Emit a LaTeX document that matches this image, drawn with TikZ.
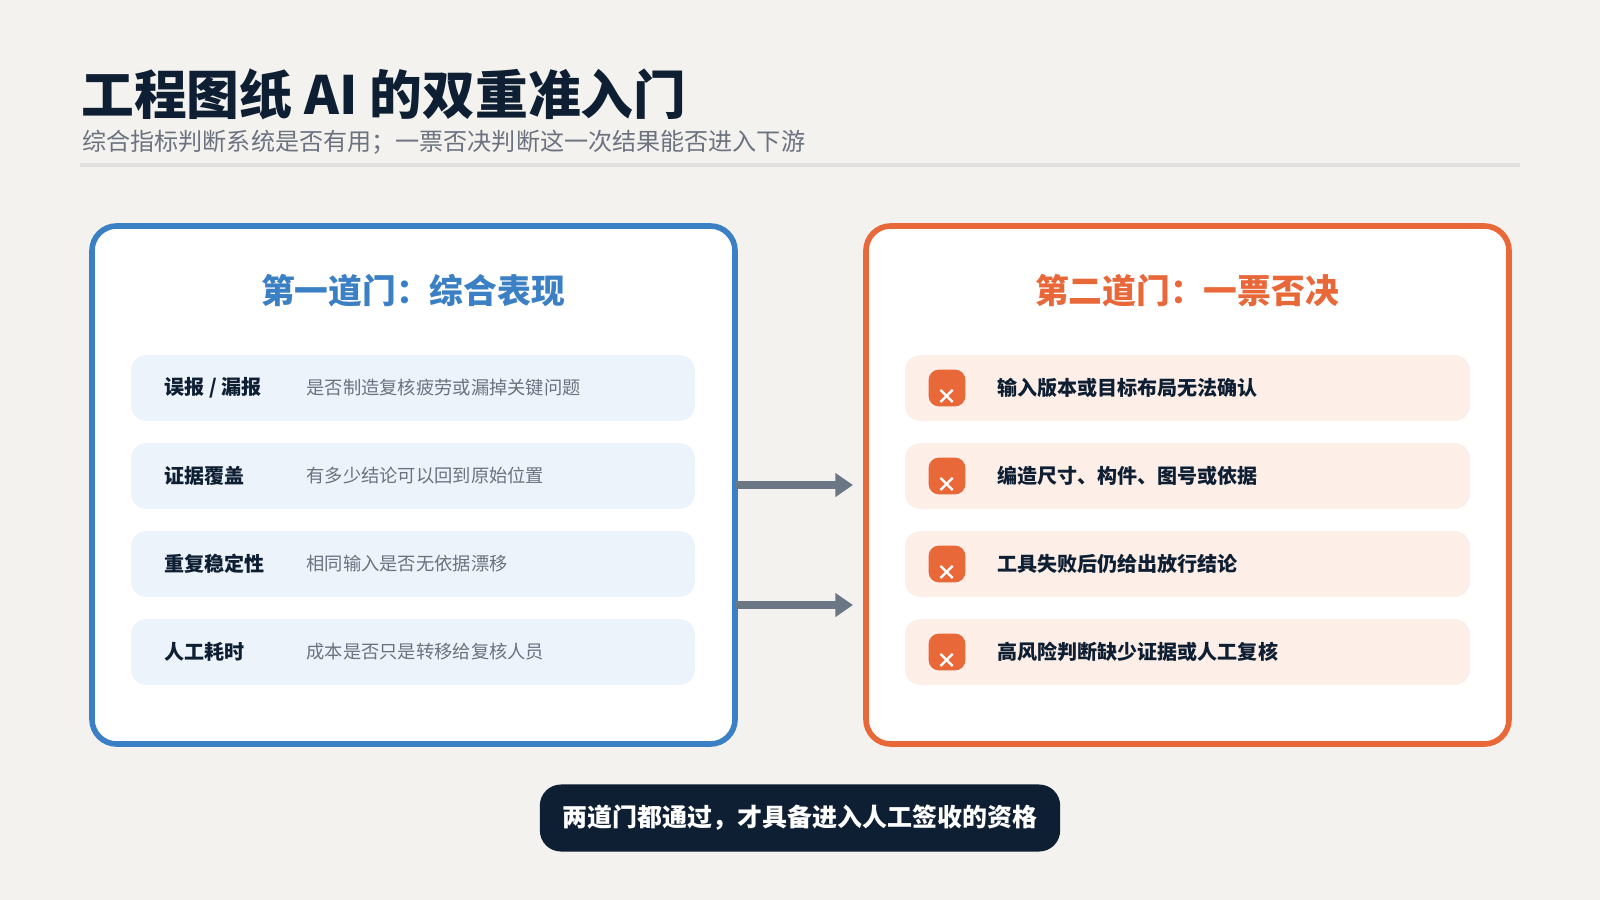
\documentclass[tikz,border=0pt]{standalone}
\usepackage{fontspec}
\setmainfont{Noto Sans CJK SC}
\usepackage{tikz}
\usetikzlibrary{arrows.meta}
\definecolor{bgc}{HTML}{F4F2EE}
\definecolor{gateblue}{HTML}{3B7FC4}
\definecolor{gateorange}{HTML}{E8683A}
\definecolor{rowblue}{HTML}{EDF3FA}
\definecolor{roworange}{HTML}{FDEFE8}
\definecolor{ink}{HTML}{0F1F33}
\definecolor{muted}{HTML}{6B7280}
\definecolor{arrowgray}{HTML}{6B7785}
\tikzset{
  gate/.style={draw=#1, line width=1.6pt, fill=white, rounded corners=7pt},
  row/.style={fill=#1, rounded corners=4.5pt},
  rowlabel/.style={anchor=west, text=ink, font=\fontsize{5.7}{7}\selectfont\bfseries},
  rowdesc/.style={anchor=west, text=muted, font=\fontsize{5.2}{6}\selectfont},
  flow/.style={draw=arrowgray, line width=2pt, -{Triangle[length=5pt,width=6.5pt]}},
  xicon/.style={fill=gateorange, rounded corners=3pt, minimum size=10.5pt, inner sep=0pt}
}
\begin{document}
\begin{tikzpicture}[x=0.01cm, y=-0.01cm]
  % background
  \fill[bgc] (0,0) rectangle (1600,900);
  \useasboundingbox (0,0) rectangle (1600,900);

  % heading
  \node[anchor=west, text=ink, font=\fontsize{15}{18}\selectfont\bfseries] (title) at (69,94) {工程图纸 AI 的双重准入门};
  \node[anchor=west, text=muted, font=\fontsize{6.85}{8}\selectfont] (subtitle) at (70,142) {综合指标判断系统是否有用；一票否决判断这一次结果能否进入下游};
  \draw[line width=1pt, color=black!12] (80,165) -- (1520,165);

  % first gate
  \draw[gate=gateblue] (92,226) rectangle (735,744);
  \node[text=gateblue, font=\fontsize{9.6}{11}\selectfont\bfseries] (h1) at (413,291) {第一道门：综合表现};
  \foreach \y/\lab/\desc [count=\i] in {388/{误报 / 漏报}/是否制造复核疲劳或漏掉关键问题,
                                       476/证据覆盖/有多少结论可以回到原始位置,
                                       564/重复稳定性/相同输入是否无依据漂移,
                                       652/人工耗时/成本是否只是转移给复核人员} {
    \fill[row=rowblue] (131,\y-33) rectangle (695,\y+33);
    \node[rowlabel] (l\i) at (152,\y) {\lab};
    \node[rowdesc] (d\i) at (294,\y) {\desc};
  }

  % second gate
  \draw[gate=gateorange] (866,226) rectangle (1509,744);
  \node[text=gateorange, font=\fontsize{9.6}{11}\selectfont\bfseries] (h2) at (1187,291) {第二道门：一票否决};
  \foreach \y/\lab [count=\i] in {388/输入版本或目标布局无法确认,
                                  476/编造尺寸、构件、图号或依据,
                                  564/工具失败后仍给出放行结论,
                                  652/高风险判断缺少证据或人工复核} {
    \fill[row=roworange] (905,\y-33) rectangle (1470,\y+33);
    \node[xicon] (x\i) at (947,\y) {};
    \node[text=white, font=\fontsize{6}{6}\selectfont\bfseries] at ([yshift=-2.5pt]x\i.center) {×};
    \node[rowlabel] (r\i) at (985,\y) {\lab};
  }

  % connectors between the gates
  \coordinate (a1) at (735,485);
  \coordinate (b1) at (853,485);
  \coordinate (a2) at (735,605);
  \coordinate (b2) at (853,605);
  \draw[flow] (a1) -- (b1);
  \draw[flow] (a2) -- (b2);

  % verdict
  \node[fill=ink, rounded corners=6pt, text=white,
        minimum width=5.2cm, minimum height=0.67cm,
        font=\fontsize{7.1}{9}\selectfont\bfseries] (verdict) at (800,818) {两道门都通过，才具备进入人工签收的资格};
\end{tikzpicture}
\end{document}
